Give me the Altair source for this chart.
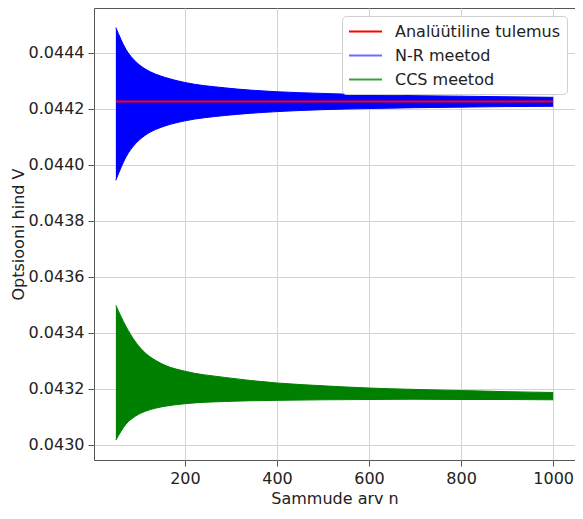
import altair as alt
import pandas as pd

# sample points along n (number of steps)
n_pts = [50, 72, 93, 114, 136, 157, 200, 286, 400, 500, 600, 700, 800, 900, 1000]

# N-R method: envelope of the even/odd oscillation
nr_upper = [0.044490, 0.044412, 0.044369, 0.044342, 0.044324, 0.044312, 0.044294, 0.044275,
            0.044261, 0.044255, 0.044250, 0.044247, 0.044245, 0.044243, 0.044241]
nr_lower = [0.043945, 0.044028, 0.044076, 0.044106, 0.044126, 0.044139, 0.044157, 0.044176,
            0.044190, 0.044197, 0.044201, 0.044204, 0.044206, 0.044208, 0.044209]

# CCS method: envelope of the oscillation
ccs_upper = [0.043498, 0.043423, 0.043367, 0.043328, 0.043302, 0.043284, 0.043263, 0.043241,
             0.043221, 0.043211, 0.043203, 0.043198, 0.043194, 0.043190, 0.043187]
ccs_lower = [0.043017, 0.043074, 0.043103, 0.043120, 0.043131, 0.043138, 0.043147, 0.043155,
             0.043159, 0.043161, 0.043162, 0.043163, 0.043162, 0.043162, 0.043161]

analytic_n = [50, 1000]
analytic_value = 0.044226

series_names = ["Analüütiline tulemus", "N-R meetod", "CCS meetod"]
series_colors = ["red", "blue", "green"]
legend_colors = ["red", "#6b6bff", "#3f9f3f"]

band_rows = []
edge_rows = []
for name, up, lo in [(series_names[1], nr_upper, nr_lower), (series_names[2], ccs_upper, ccs_lower)]:
    for n, u, l in zip(n_pts, up, lo):
        band_rows.append({"n": n, "lo": l, "hi": u, "series": name})
        edge_rows.append({"n": n, "y": u, "series": name, "edge": name + "_u"})
        edge_rows.append({"n": n, "y": l, "series": name, "edge": name + "_l"})
band = pd.DataFrame(band_rows)
edges = pd.DataFrame(edge_rows)
analytic = pd.DataFrame({"n": analytic_n, "y": [analytic_value] * len(analytic_n),
                         "series": series_names[0]})

fill_scale = alt.Scale(domain=series_names, range=series_colors)
x_scale = alt.Scale(domain=[2.5, 1047.5], nice=False, zero=False)
x_enc = alt.X("n:Q", scale=x_scale,
              axis=alt.Axis(values=[200, 400, 600, 800, 1000], format="d", title="Sammude arv n"))
y_scale = alt.Scale(domain=[0.042946, 0.04456], nice=False, zero=False)
y_axis = alt.Axis(values=[0.0430, 0.0432, 0.0434, 0.0436, 0.0438, 0.0440, 0.0442, 0.0444],
                  format=".4f", title="Optsiooni hind V")

areas = alt.Chart(band).mark_area(interpolate="monotone", opacity=1).encode(
    x=x_enc,
    y=alt.Y("lo:Q", scale=y_scale, axis=y_axis),
    y2="hi:Q",
    fill=alt.Fill("series:N", scale=fill_scale, legend=None),
)

edge_lines = alt.Chart(edges).mark_line(interpolate="monotone", strokeWidth=1).encode(
    x=x_enc,
    y=alt.Y("y:Q", scale=y_scale, axis=y_axis),
    detail="edge:N",
    stroke=alt.Stroke("series:N", scale=fill_scale, legend=None),
)

red_line = alt.Chart(analytic).mark_line(strokeWidth=2, color="red").encode(
    x=x_enc,
    y=alt.Y("y:Q", scale=y_scale, axis=y_axis),
)

# legend entries (drawn by the legend only; these rows have no coordinates)
legend_df = pd.DataFrame({"series": series_names, "n": [None] * 3, "y": [None] * 3})
legend_layer = alt.Chart(legend_df).mark_line(strokeWidth=2).encode(
    x=alt.X("n:Q", scale=x_scale),
    y=alt.Y("y:Q", scale=y_scale),
    color=alt.Color("series:N",
                    scale=alt.Scale(domain=series_names, range=legend_colors),
                    legend=alt.Legend(title=None, orient="top-right")),
)

chart = alt.layer(areas, edge_lines, red_line, legend_layer).resolve_scale(
    color="independent", fill="independent", stroke="independent"
).properties(
    width=481, height=452,
    autosize=alt.AutoSizeParams(type="none"),
    padding={"left": 86, "top": 0, "right": 0, "bottom": 50},
).configure(
    font="DejaVu Sans",
).configure_view(
    stroke="#555", strokeWidth=1,
).configure_axis(
    domain=False,
    grid=True, gridColor="#d3d3d3", gridWidth=1,
    tickColor="#555", tickSize=6,
    labelFont="DejaVu Sans", labelFontSize=16, labelColor="#222", labelPadding=4,
    titleFont="DejaVu Sans", titleFontSize=16, titleFontWeight="normal", titleColor="#222",
).configure_axisY(
    titlePadding=2,
).configure_axisX(
    titlePadding=4,
).configure_legend(
    symbolType="M-2,0H2", symbolStrokeWidth=2, symbolSize=272, symbolOffset=8,
    labelFont="DejaVu Sans", labelFontSize=16, labelColor="#222", labelLimit=400,
    labelOffset=20,
    fillColor="white", strokeColor="#d0d0d0", cornerRadius=4,
    padding=6, rowPadding=6, offset=8,
)

chart.save("out.html", embed_options={"renderer": "svg", "actions": False})
